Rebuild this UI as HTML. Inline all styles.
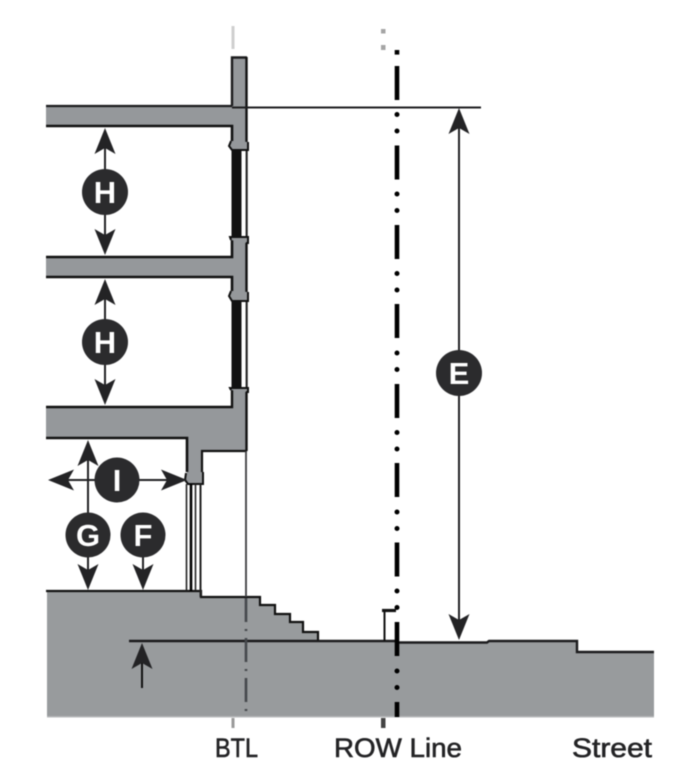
<!DOCTYPE html>
<html>
<head>
<meta charset="utf-8">
<style>
html,body{margin:0;padding:0;background:#fff;width:699px;height:781px;overflow:hidden}
svg{display:block;filter:blur(.4px)}
text{font-family:"Liberation Sans",sans-serif}
</style>
</head>
<body>
<svg width="699" height="781" viewBox="0 0 699 781" xmlns="http://www.w3.org/2000/svg">
<defs>
  <path id="ah" d="M0 0 L10.5 26 L0 20 L-10.5 26 Z" fill="#232325"/>
</defs>

<!-- Ground -->
<path d="M47 591 H201 V597 H260 V605 H275 V614 H290 V622 H303 V632 H318 V641 H397 V642 H487 V641 H577 V652 H654 V717 H47 Z" fill="#989b9d"/>
<path d="M46 591 H201 V597 H260 V605 H275 V614 H290 V622 H303 V632 H318 V641" fill="none" stroke="#111" stroke-width="2.2"/>
<path d="M129 641 H397 V642.5 H487 L489 641 H577 V652 H654" fill="none" stroke="#1b1b1d" stroke-width="2.4"/>
<rect x="47" y="716" width="607" height="1.5" fill="#b5b7b9"/>

<!-- Building section fill -->
<path d="M231 57 H247 V451 H202 V482 H187 V438 H46 V407 H232 V300 L232 277 H46 V257 H232 V149 L232 126 H46 V106 H231 Z" fill="#95989b"/>
<!-- Outlines -->
<path d="M232 106 V57.5 H247" fill="none" stroke="#1b1b1d" stroke-width="2.4"/>
<path d="M46 106 H232" stroke="#1b1b1d" stroke-width="2.2" fill="none"/>
<path d="M46 126 H232 V141" stroke="#111" stroke-width="2.6" fill="none"/>
<path d="M46 257 H232 V239" stroke="#111" stroke-width="2.6" fill="none"/>
<path d="M46 277 H232 V291" stroke="#111" stroke-width="2.6" fill="none"/>
<path d="M46 407 H232 V388" stroke="#111" stroke-width="2.4" fill="none"/>
<path d="M46 438 H187 V472" stroke="#111" stroke-width="2.6" fill="none"/>
<path d="M202 482 V451 H247" stroke="#111" stroke-width="2.2" fill="none"/>
<path d="M246.5 57 V451" stroke="#111" stroke-width="2.4" fill="none"/>

<!-- Windows -->
<rect x="231.5" y="150" width="10" height="88" fill="#111"/>
<rect x="241.5" y="150" width="5" height="88" fill="#fff"/>
<path d="M246.5 150 V238" stroke="#222" stroke-width="1.8"/>
<rect x="231.5" y="300" width="10" height="88" fill="#111"/>
<rect x="241.5" y="300" width="5" height="88" fill="#fff"/>
<path d="M246.5 300 V388" stroke="#222" stroke-width="1.8"/>

<!-- Window joints -->
<g fill="#95989b" stroke="#111" stroke-width="2">
  <path d="M231 141 L229 146 L232 150 H248 V142"/>
  <path d="M231 240 L230 237 H248 V243 H246"/>
  <path d="M231 291 L229 296 L232 301 H248 V292"/>
  <path d="M231 390 L230 388 H248 V392 H246"/>
</g>

<!-- Ground floor mullions -->
<path d="M186 473 L185 480 L188 484 H203 V472" fill="#95989b" stroke="#111" stroke-width="2"/>
<path d="M186.5 484 V591" stroke="#222" stroke-width="1.6"/>
<path d="M191 484 V591" stroke="#000" stroke-width="2.6"/>
<path d="M195.5 484 V591" stroke="#222" stroke-width="1.6"/>
<path d="M200.5 484 V597" stroke="#222" stroke-width="2"/>

<!-- BTL line -->
<path d="M246 451 V597" stroke="#3c3d40" stroke-width="1.8"/>
<path d="M246 598 V717" stroke="#45484c" stroke-width="2.6" stroke-dasharray="24 7 2 7"/>
<path d="M233 26 V49" stroke="#cfcfcf" stroke-width="3"/>
<path d="M233 718 V728" stroke="#9a9a9a" stroke-width="3"/>

<!-- ROW line -->
<g fill="#000">
  <rect x="394.7" y="50" width="4.6" height="4.6"/>
  <rect x="394.7" y="66" width="4.6" height="34"/>
  <circle cx="397" cy="114.5" r="2.5"/><circle cx="397" cy="131" r="2.5"/>
  <rect x="394.7" y="145.5" width="4.6" height="34"/>
  <circle cx="397" cy="194" r="2.5"/><circle cx="397" cy="210.5" r="2.5"/>
  <rect x="394.7" y="225" width="4.6" height="34"/>
  <circle cx="397" cy="273.5" r="2.5"/><circle cx="397" cy="290" r="2.5"/>
  <rect x="394.7" y="304" width="4.6" height="34"/>
  <circle cx="397" cy="353" r="2.5"/><circle cx="397" cy="369.5" r="2.5"/>
  <rect x="394.7" y="384" width="4.6" height="34"/>
  <circle cx="397" cy="432.5" r="2.5"/><circle cx="397" cy="449" r="2.5"/>
  <rect x="394.7" y="463" width="4.6" height="34"/>
  <circle cx="397" cy="512" r="2.5"/><circle cx="397" cy="528.5" r="2.5"/>
  <rect x="394.7" y="542.5" width="4.6" height="34"/>
  <circle cx="397" cy="591" r="2.5"/><circle cx="397" cy="607.5" r="2.5"/>
  <rect x="394.7" y="622" width="4.6" height="34"/>
  <circle cx="397" cy="671" r="2.5"/><circle cx="397" cy="687.5" r="2.5"/>
  <rect x="394.7" y="702" width="4.6" height="15"/>
</g>
<g fill="#a5a5a5">
  <rect x="381" y="29" width="4.5" height="4.5"/>
  <rect x="381" y="45" width="4.5" height="5"/>
</g>
<rect x="381" y="718" width="4.5" height="10" fill="#444"/>

<!-- Gate -->
<path d="M382 610.5 H396" stroke="#111" stroke-width="3.2" fill="none"/>
<path d="M384.5 611 V641" stroke="#111" stroke-width="2" fill="none"/>

<!-- E dimension -->
<path d="M232 107.5 H481" stroke="#1f1f21" stroke-width="2"/>
<path d="M459 115 V632" stroke="#232325" stroke-width="2"/>
<use href="#ah" transform="translate(459,108)"/>
<use href="#ah" transform="translate(459,640) scale(1,-1)"/>

<!-- H arrows -->
<path d="M105 135 V248" stroke="#232325" stroke-width="2"/>
<use href="#ah" transform="translate(105,128)"/>
<use href="#ah" transform="translate(105,255) scale(1,-1)"/>
<path d="M105 286 V398" stroke="#232325" stroke-width="2"/>
<use href="#ah" transform="translate(105,279)"/>
<use href="#ah" transform="translate(105,405) scale(1,-1)"/>

<!-- I arrow -->
<path d="M55 480 H180" stroke="#232325" stroke-width="2"/>
<use href="#ah" transform="translate(48,480) rotate(-90)"/>
<use href="#ah" transform="translate(187,480) rotate(90)"/>

<!-- G, F arrows -->
<path d="M88 447 V583" stroke="#232325" stroke-width="2"/>
<use href="#ah" transform="translate(88,440)"/>
<use href="#ah" transform="translate(88,590) scale(1,-1)"/>
<path d="M143 540 V583" stroke="#232325" stroke-width="2"/>
<use href="#ah" transform="translate(143,590) scale(1,-1)"/>

<!-- Bottom-left arrow -->
<path d="M142 650 V688" stroke="#111" stroke-width="2"/>
<use href="#ah" transform="translate(142,643)"/>

<!-- Circles -->
<g fill="#2b2b2d">
  <circle cx="105" cy="192" r="23"/>
  <circle cx="105" cy="342" r="23"/>
  <circle cx="459" cy="373" r="23"/>
  <circle cx="117" cy="480" r="22.5"/>
  <circle cx="88" cy="535" r="22.5"/>
  <circle cx="143" cy="535" r="22.5"/>
</g>
<g fill="#fff" font-size="31" font-weight="bold" text-anchor="middle">
  <text x="105" y="203">H</text>
  <text x="105" y="353">H</text>
  <text x="459" y="384">E</text>
  <text x="117" y="491">I</text>
  <text x="88" y="546">G</text>
  <text x="143" y="546">F</text>
</g>

<!-- Labels -->
<g fill="#232325" stroke="#232325" stroke-width=".6" font-size="27">
  <text x="215" y="757" textLength="43" lengthAdjust="spacingAndGlyphs">BTL</text>
  <text x="334" y="757" textLength="128" lengthAdjust="spacingAndGlyphs">ROW Line</text>
  <text x="572" y="757" textLength="80" lengthAdjust="spacingAndGlyphs">Street</text>
</g>
</svg>
</body>
</html>
